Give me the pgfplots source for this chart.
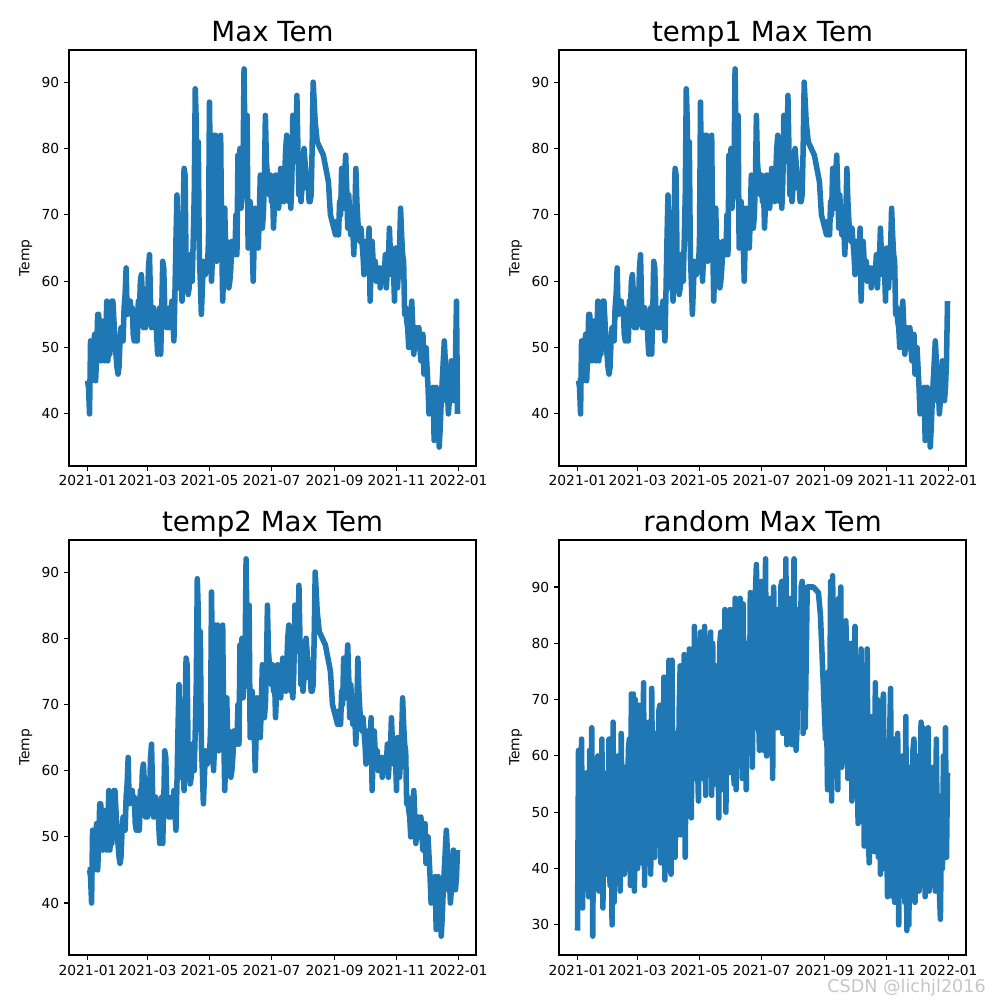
\documentclass[border=0pt]{standalone}
\usepackage{fontspec}
\setmainfont{DejaVu Sans}
\usepackage{pgfplots}
\usepackage{pgfplotstable}
\pgfplotsset{compat=1.18}
\definecolor{mplblue}{HTML}{1F77B4}
\pgfplotstableread{
d a f
-2 45 29
-1 45 29
0 45 29
1 44 61
2 40 51
3 51 42
4 45 63
5 48 33
6 50 54
7 52 45
8 45 39
9 49 57
10 55 48
11 55 35
12 49 61
13 48 44
14 54 65
15 50 28
16 54 55
17 48 46
18 52 40
19 57 58
20 48 60
21 51 36
22 49 51
23 56 42
24 57 63
25 57 33
26 54 54
27 51 45
28 49 39
29 47 57
30 46 48
31 47 63
32 51 37
33 53 53
34 52 30
35 51 66
36 56 34
37 58 56
38 62 47
39 55 40
40 57 60
41 56 50
42 57 36
43 55 64
44 56 45
45 52 55
46 51 39
47 52 58
48 51 48
49 51 42
50 57 61
51 55 63
52 60 37
53 61 71
54 58 44
55 53 71
56 55 36
57 53 70
58 58 47
59 56 40
60 62 60
61 64 69
62 57 41
63 53 59
64 55 48
65 56 73
66 54 37
67 55 62
68 52 51
69 49 44
70 52 66
71 56 55
72 49 39
73 55 72
74 63 50
75 62 60
76 56 42
77 54 64
78 53 53
79 55 46
80 53 68
81 56 69
82 55 41
83 57 59
84 54 48
85 51 74
86 58 38
87 66 62
88 73 51
89 64 44
90 59 77
91 62 55
92 60 39
93 57 77
94 70 50
95 77 60
96 76 42
97 62 64
98 60 53
99 58 46
100 59 68
101 64 76
102 63 46
103 60 65
104 66 53
105 73 78
106 89 42
107 84 69
108 70 57
109 81 50
110 64 79
111 60 61
112 55 49
113 59 78
114 63 57
115 61 83
116 61 56
117 63 71
118 62 59
119 66 52
120 87 74
121 74 82
122 60 56
123 64 71
124 82 61
125 68 83
126 82 53
127 63 75
128 66 64
129 78 57
130 65 78
131 82 82
132 66 53
133 57 80
134 62 62
135 71 73
136 64 55
137 66 76
138 62 66
139 59 49
140 60 80
141 62 82
142 66 54
143 64 71
144 66 61
145 64 86
146 70 50
147 64 75
148 79 64
149 74 57
150 80 86
151 71 85
152 73 58
153 77 75
154 92 55
155 80 88
156 78 54
157 85 79
158 65 68
159 68 61
160 72 88
161 70 72
162 66 56
163 60 87
164 66 66
165 71 77
166 68 54
167 66 80
168 65 70
169 70 63
170 76 89
171 72 85
172 68 58
173 70 75
174 75 65
175 85 89
176 78 94
177 76 79
178 74 68
179 73 61
180 76 82
181 72 91
182 74 64
183 68 61
184 72 71
185 76 95
186 74 60
187 73 85
188 71 74
189 73 67
190 77 88
191 75 78
192 74 56
193 72 90
194 76 72
195 80 83
196 82 65
197 78 86
198 72 76
199 74 65
200 71 90
201 75 91
202 85 64
203 79 81
204 82 71
205 78 95
206 88 62
207 80 85
208 73 74
209 76 67
210 72 88
211 74 62
212 77 68
213 80 95
214 78 72
215 76 61
216 74 65
217 75 86
218 72 76
219 72 69
220 73 90
221 80 91
222 90 64
223 87 81
224 84 65
226 81 90
232 79 90
237 75 89
239 70 85
244 67 63
245 69 68
246 67 54
247 67 75
248 72 63
249 70 91
250 77 52
251 73 92
252 71 67
253 76 60
254 79 82
255 74 71
256 68 54
257 73 88
258 70 65
259 67 90
260 70 58
261 68 81
262 64 69
263 70 62
264 77 84
265 72 76
266 69 56
267 67 75
268 66 63
269 68 80
270 66 52
271 64 70
272 61 67
273 63 83
274 66 60
275 65 71
276 64 48
277 68 72
278 57 65
279 62 79
280 66 58
281 63 71
282 61 44
283 63 59
284 60 48
285 62 79
286 61 46
287 62 41
288 59 52
289 61 44
290 62 67
291 60 56
292 61 43
293 64 73
294 59 50
295 62 70
296 63 42
297 68 65
298 64 39
299 61 46
300 63 69
301 62 71
302 57 40
303 65 59
304 61 48
305 59 35
306 62 36
307 65 63
308 71 72
309 67 44
310 64 35
311 63 63
312 55 34
313 56 52
314 54 41
315 53 64
316 50 30
317 54 56
318 55 45
319 57 37
320 53 60
321 49 49
322 51 34
323 53 67
324 52 29
325 50 54
326 53 30
327 50 58
328 48 47
329 50 39
330 52 61
331 46 63
332 49 34
333 50 52
334 47 41
335 44 60
336 40 36
337 42 56
338 41 66
339 40 37
340 44 65
341 36 62
342 40 35
343 44 51
344 42 41
345 40 65
346 35 36
347 38 55
348 42 45
349 45 38
350 48 58
351 51 48
352 48 36
353 42 63
354 44 43
355 40 53
356 42 36
357 45 31
358 48 46
359 44 40
360 42 60
361 44 42
362 48 65
363 57 42
364 40 57
}\data
\pgfplotsset{
  myaxis/.style={
    scale only axis, width=4.07in, height=4.16in,
    anchor=south west,
    xmin=-18.2, xmax=382.2,
    xtick={0,59,120,181,243,304,365},
    xticklabels={2021-01,2021-03,2021-05,2021-07,2021-09,2021-11,2022-01},
    tick align=outside, xtick pos=bottom, ytick pos=left,
    major tick length=3.5pt,
    tick style={black, line width=0.8pt},
    axis line style={line width=0.8pt},
    ticklabel style={font=\fontsize{10}{12}\selectfont},
    /pgf/number format/assume math mode=true,
    ylabel={Temp}, ylabel style={font=\fontsize{10}{12}\selectfont},
    title style={font=\fontsize{20}{24}\selectfont, at={(0.5,1)}, anchor=base, inner sep=0pt},
    ymin=32.15, ymax=94.85, ytick={40,50,60,70,80,90},
  },
  myline/.style={mplblue, line width=4pt, line join=round, no markers},
}
\begin{document}
\begin{tikzpicture}
\path[use as bounding box, fill=white] (0,0) rectangle (10in,10in);
\begin{axis}[myaxis, at={(0.69in,5.34in)}, title={Max Tem}]
\addplot[myline, restrict x to domain=0:364] table[x=d, y=a] {\data};
\end{axis}
\begin{axis}[myaxis, at={(5.59in,5.34in)}, title={temp1 Max Tem}]
\addplot[myline, restrict x to domain=0:364] table[x expr=\thisrow{d}+1, y=a] {\data};
\end{axis}
\begin{axis}[myaxis, at={(0.69in,0.45in)}, height=4.15in, title={temp2 Max Tem}]
\addplot[myline, restrict x to domain=0:364] table[x expr=\thisrow{d}+2, y=a] {\data};
\end{axis}
\begin{axis}[myaxis, at={(5.59in,0.45in)}, height=4.15in, title={random Max Tem},
  ymin=24.65, ymax=98.35, ytick={30,40,50,60,70,80,90}]
\addplot[myline, restrict x to domain=0:364] table[x=d, y=f] {\data};
\end{axis}
\node[anchor=base east, text=gray!45, font=\fontsize{12.7}{15}\selectfont, inner sep=0pt] at (9.86in,0.08in) {CSDN @lichjl2016};
\end{tikzpicture}
\end{document}
